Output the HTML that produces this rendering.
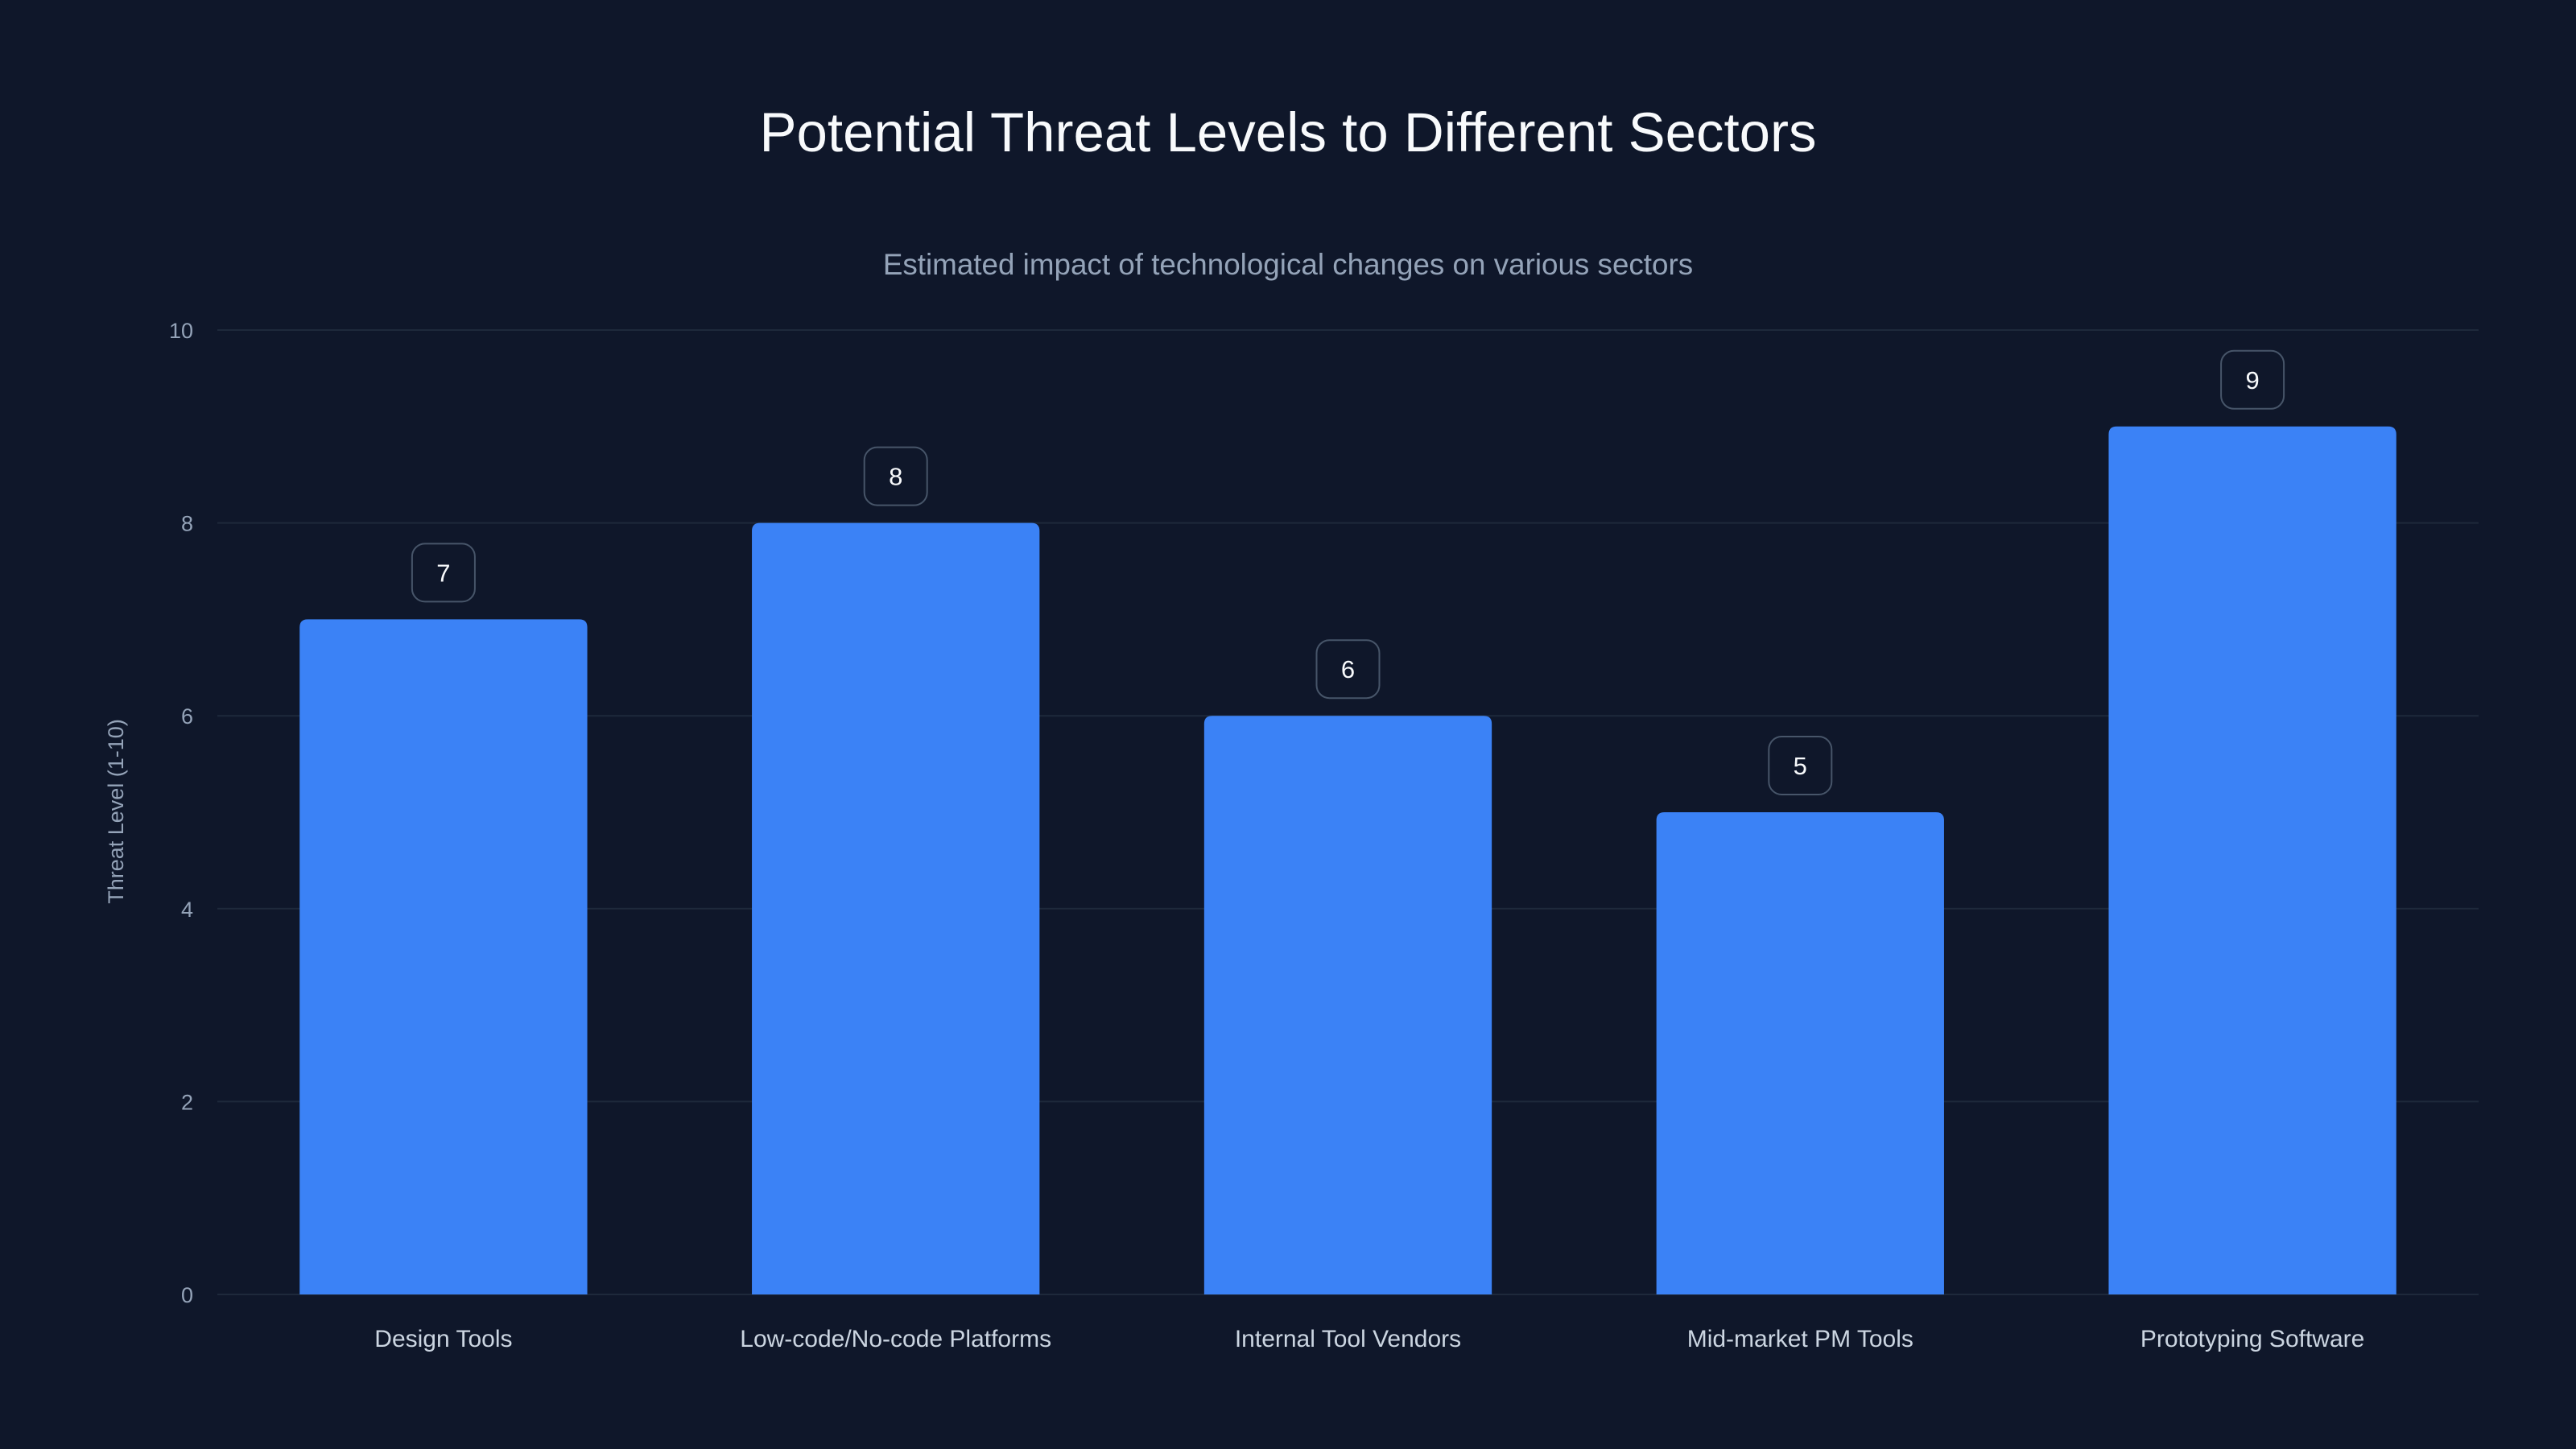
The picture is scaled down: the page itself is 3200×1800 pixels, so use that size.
<!DOCTYPE html>
<html><head><meta charset="utf-8"><style>
html,body{margin:0;padding:0;background:#0f172a;}
svg{display:block;font-family:"Liberation Sans",sans-serif;}
</style></head><body>
<svg id="chart" width="3200" height="1800" viewBox="0 0 3200 1800" xmlns="http://www.w3.org/2000/svg">
<rect width="3200" height="1800" fill="#0f172a"/>
<text x="1600" y="188" text-anchor="middle" fill="#f8fafc" font-size="69">Potential Threat Levels to Different Sectors</text>
<text x="1600" y="341" text-anchor="middle" fill="#94a3b8" font-size="36.8">Estimated impact of technological changes on various sectors</text>
<text transform="translate(153,1008) rotate(-90)" text-anchor="middle" fill="#94a3b8" font-size="27">Threat Level (1-10)</text>
<g id="grid"></g><g id="bars"></g>
</svg>
<script>
const categories=["Design Tools","Low-code/No-code Platforms","Internal Tool Vendors","Mid-market PM Tools","Prototyping Software"];
const values=[7,8,6,5,9];
const yTicks=[0,2,4,6,8,10];
const NS="http://www.w3.org/2000/svg";
const L=270,R=3079,T=410,B=1608,yMax=10;
function y(v){return B-(B-T)*v/yMax;}
const band=(R-L)/categories.length;
function xc(i){return L+band*(i+0.5);}
const bw=band*0.636;
function mk(t,a,p){const e=document.createElementNS(NS,t);for(const k in a)e.setAttribute(k,a[k]);p.appendChild(e);return e;}
const g=document.getElementById('grid'),bg=document.getElementById('bars');
yTicks.forEach(v=>{
 const l=mk('line',{x1:L,x2:R,y1:y(v),y2:y(v),stroke:'#1e293b','stroke-width':2},g);
 
 
 const t=mk('text',{x:240,y:y(v)+10,'text-anchor':'end',fill:'#94a3b8','font-size':27},g);
 t.textContent=v;
 
 
});
categories.forEach((c,i)=>{
 const top=y(values[i]),x0=xc(i)-bw/2,r=10;
 const p=mk('path',{d:`M${x0},${B}V${top+r}Q${x0},${top} ${x0+r},${top}H${x0+bw-r}Q${x0+bw},${top} ${x0+bw},${top+r}V${B}Z`,fill:'#3b82f6'},bg);
 
 
 const b=mk('rect',{x:xc(i)-39,y:top-94,width:78,height:72,rx:16,fill:'#0f172a',stroke:'#475569','stroke-width':2},bg);
 
 
 const vt=mk('text',{x:xc(i),y:top-47,'text-anchor':'middle',fill:'#f8fafc','font-size':31},bg);
 vt.textContent=values[i];
 
 
 const ct=mk('text',{x:xc(i),y:1673,'text-anchor':'middle',fill:'#cbd5e1','font-size':30},bg);
 ct.textContent=c;
 
 
});
</script>
</body></html>
